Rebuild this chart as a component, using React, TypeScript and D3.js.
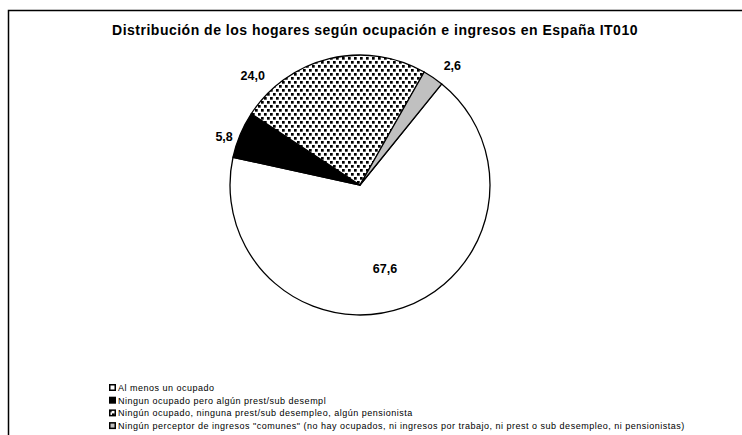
import React from "react";
import * as d3 from "d3";

const categories = [
  "Al menos un ocupado",
  "Ningun ocupado pero algún prest/sub desempl",
  "Ningún ocupado, ninguna prest/sub desempleo, algún pensionista",
  "Ningún perceptor de ingresos \"comunes\" (no hay ocupados, ni ingresos por trabajo, ni prest o sub desempleo, ni pensionistas)",
];
const values = [67.6, 5.8, 24.0, 2.6];
const valueLabels = ["67,6", "5,8", "24,0", "2,6"];
const title = "Distribución de los hogares según ocupación e ingresos en España IT010";

// layout / style
const W = 742;
const H = 435;
const cx = 360;
const cy = 185;
const R = 130;
const startAngle = 0.68;
const fills = ["#ffffff", "#000000", "url(#dots)", "#c0c0c0"];
const labelRadius = [88, 144, 153, 151];
const labelAngleShift = [0.05, -0.06, -0.54, 0.06];

export default function App() {
  const pie = d3
    .pie<number>()
    .sort(null)
    .value((d) => d)
    .startAngle(startAngle)
    .endAngle(startAngle + Math.PI * 2);
  const arcs = pie(values);
  const arc = d3.arc<d3.PieArcDatum<number>>().innerRadius(0).outerRadius(R);

  return (
    <svg
      width={W}
      height={H}
      style={{ position: "absolute", left: 0, top: 0, fontFamily: "'Liberation Sans', Arial, sans-serif" }}
    >
      <defs>
        <pattern id="dots" width={6} height={8} patternUnits="userSpaceOnUse">
          <rect width={6} height={8} fill="#fff" />
          <rect x={0} y={0} width={2.7} height={2.7} fill="#000" />
          <rect x={3} y={4} width={2.7} height={2.7} fill="#000" />
        </pattern>
      </defs>
      <rect x={0} y={0} width={W} height={H} fill="#fff" />
      <rect x={8.5} y={10.5} width={W + 10} height={H + 10} fill="none" stroke="#000" strokeWidth={1.5} />
      <text x={375} y={35} textAnchor="middle" fontSize={14} fontWeight="bold" letterSpacing={0.5}>
        {title}
      </text>
      <g transform={`translate(${cx},${cy})`}>
        {arcs.map((a, i) => (
          <path key={i} d={arc(a) || ""} fill={fills[i]} stroke="#000" strokeWidth={1.3} strokeLinejoin="round" />
        ))}
        {arcs.map((a, i) => {
          const mid = (a.startAngle + a.endAngle) / 2 + labelAngleShift[i];
          const r = labelRadius[i];
          const x = Math.sin(mid) * r;
          const y = -Math.cos(mid) * r;
          return (
            <text key={"l" + i} x={x} y={y} textAnchor="middle" dominantBaseline="central" fontSize={12.5} fontWeight="bold">
              {valueLabels[i]}
            </text>
          );
        })}
      </g>
      <g transform="translate(109,384)">
        {categories.map((c, i) => (
          <g key={c} transform={`translate(0,${i * 12.7})`}>
            <rect x={0.75} y={0.75} width={5.5} height={5.5} fill={fills[i]} stroke="#000" strokeWidth={1.5} />
            <text x={9} y={7} fontSize={9} letterSpacing={0.5}>
              {c}
            </text>
          </g>
        ))}
      </g>
    </svg>
  );
}
